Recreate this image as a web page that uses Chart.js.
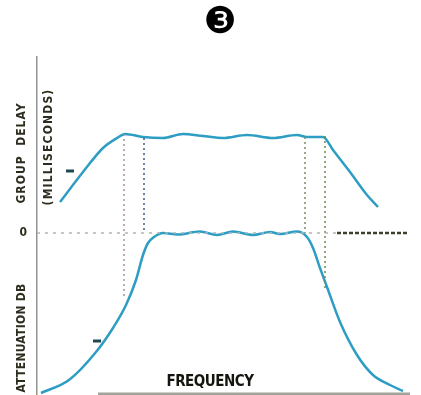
<!DOCTYPE html>
<html>
<head>
<meta charset="utf-8">
<script src="https://cdn.jsdelivr.net/npm/chart.js@4.4.0/dist/chart.umd.min.js"></script>
<style>
  html, body { margin: 0; padding: 0; background: #fff; overflow: hidden; }
  canvas { display: block; }
</style>
</head>
<body>
<canvas id="myChart" width="421" height="395"></canvas>
<script>
// frequency in arbitrary units, values relative to the 0 line
var delayFreq = [23, 46, 66, 80, 88, 106, 126, 146, 166, 186, 210, 236, 260, 270, 286, 296, 313, 330, 341];
var delayVal  = [31, 61, 85, 95, 99, 96, 95, 99, 97, 95, 98, 95, 98, 96, 96, 83, 61, 38, 26];

var attenFreq = [4, 32, 59, 76, 89, 99, 106, 111, 117, 126, 141, 163, 180, 196, 216, 233, 243, 260, 270, 276, 283, 290, 303, 320, 336, 353, 366];
var attenVal  = [-160, -147, -119, -95, -72, -47, -22, -10, -4, 0, -1.5, 1.5, -2, 1.5, -2, 1, -1, 1.5, -4, -15, -35, -54, -89, -122, -142, -152, -158];

// dotted drop lines at the band edges
var cutoffFreq   = [87, 107, 268, 288];
var cutoffTop    = [99, 95, 96, 97];
var cutoffBottom = [-64, 0, 0, -55];

var zeroLineEnd = 370;
var baseFreq = [61, 373];
var markFreq = [33, 60];
var markVal  = [62, -108];

var yMin = -162, yMax = 176, xMin = 0, xMax = 384;

function pts(xs, ys) {
  var out = [];
  for (var i = 0; i < xs.length; i++) out.push({x: xs[i], y: ys[i]});
  return out;
}

var curveColor = '#2d9dc3';
var dropColors = ['#a8949a', '#3d5c86', '#7e8c62', '#6b8a55'];

var datasets = [];
// zero reference line (light part then dark end)
datasets.push({ data: [{x: 0, y: 0}, {x: 300, y: 0}], borderColor: '#b4b4b0', borderWidth: 1.5, borderDash: [3, 5] });
datasets.push({ data: [{x: 300, y: 0}, {x: zeroLineEnd, y: 0}], borderColor: '#3e3e2c', borderWidth: 2.5, borderDash: [4, 2] });
for (var i = 0; i < cutoffFreq.length; i++) {
  datasets.push({
    data: [{x: cutoffFreq[i], y: cutoffTop[i]}, {x: cutoffFreq[i], y: cutoffBottom[i]}],
    borderColor: dropColors[i], borderWidth: 1.5, borderDash: [2, 3]
  });
}
datasets.push({ data: [{x: baseFreq[0], y: yMin + 1}, {x: baseFreq[1], y: yMin + 1}], borderColor: '#a2a49c', borderWidth: 3 });
datasets.push({ data: pts(delayFreq, delayVal), borderColor: curveColor, borderWidth: 2.5, cubicInterpolationMode: 'monotone' });
datasets.push({ data: pts(attenFreq, attenVal), borderColor: curveColor, borderWidth: 2.5, cubicInterpolationMode: 'monotone' });
datasets.push({ data: pts(markFreq, markVal), showLine: false, pointRadius: 4, pointStyle: 'line',
  pointBorderColor: '#1d4850', pointBorderWidth: 3 });

datasets.forEach(function (d) {
  if (d.showLine === undefined) d.showLine = true;
  if (d.pointRadius === undefined) d.pointRadius = 0;
});

var labelsPlugin = {
  id: 'labels',
  afterDraw: function (chart) {
    var ctx = chart.ctx;
    ctx.save();
    ctx.textAlign = 'center';
    ctx.textBaseline = 'middle';
    // fit a label to a given length by spreading its letters
    function fit(t, len) {
      ctx.letterSpacing = '0px';
      var w = ctx.measureText(t).width;
      ctx.letterSpacing = ((len - w) / t.length).toFixed(2) + 'px';
    }
    function vtext(t, x, y, len) {
      fit(t, len);
      ctx.save();
      ctx.translate(x, y);
      ctx.rotate(-Math.PI / 2);
      ctx.fillText(t, 0, 0);
      ctx.restore();
    }

    ctx.fillStyle = '#000';
    ctx.font = '37px "DejaVu Sans"';
    ctx.letterSpacing = '0px';
    ctx.fillText('\u2778', 220, 23);

    ctx.fillStyle = '#15150f';
    ctx.font = 'bold 15px "DejaVu Sans Condensed"';
    fit('FREQUENCY', 87);
    ctx.fillText('FREQUENCY', 210, 382);

    ctx.fillStyle = '#2e2c1e';
    ctx.font = 'bold 12px "DejaVu Sans Condensed"';
    vtext('GROUP  DELAY', 22, 153, 101);
    vtext('(MILLISECONDS)', 49, 147, 117);
    vtext('ATTENUATION DB', 22, 338, 109);
    ctx.restore();
  }
};

var ctx = document.getElementById('myChart').getContext('2d');
var chart = new Chart(ctx, {
  type: 'scatter',
  data: { datasets: datasets },
  options: {
    responsive: false,
    animation: false,
    layout: { autoPadding: false, padding: { top: 57, left: 0, right: 0, bottom: 0 } },
    plugins: { legend: { display: false }, tooltip: { enabled: false } },
    scales: {
      x: { type: 'linear', min: xMin, max: xMax, display: false },
      y: {
        type: 'linear', min: yMin, max: yMax,
        grid: { display: false, drawTicks: false },
        border: { color: '#8f9490', width: 1.5 },
        ticks: { padding: 10, color: '#2e2c1e', font: { family: 'DejaVu Sans Condensed', weight: 'bold', size: 12 } },
        afterBuildTicks: function (s) { s.ticks = [{value: 0}]; },
        afterFit: function (s) { s.width = 37; s.paddingTop = 0; s.paddingBottom = 0; }
      }
    }
  },
  plugins: [labelsPlugin]
});
</script>
</body>
</html>
